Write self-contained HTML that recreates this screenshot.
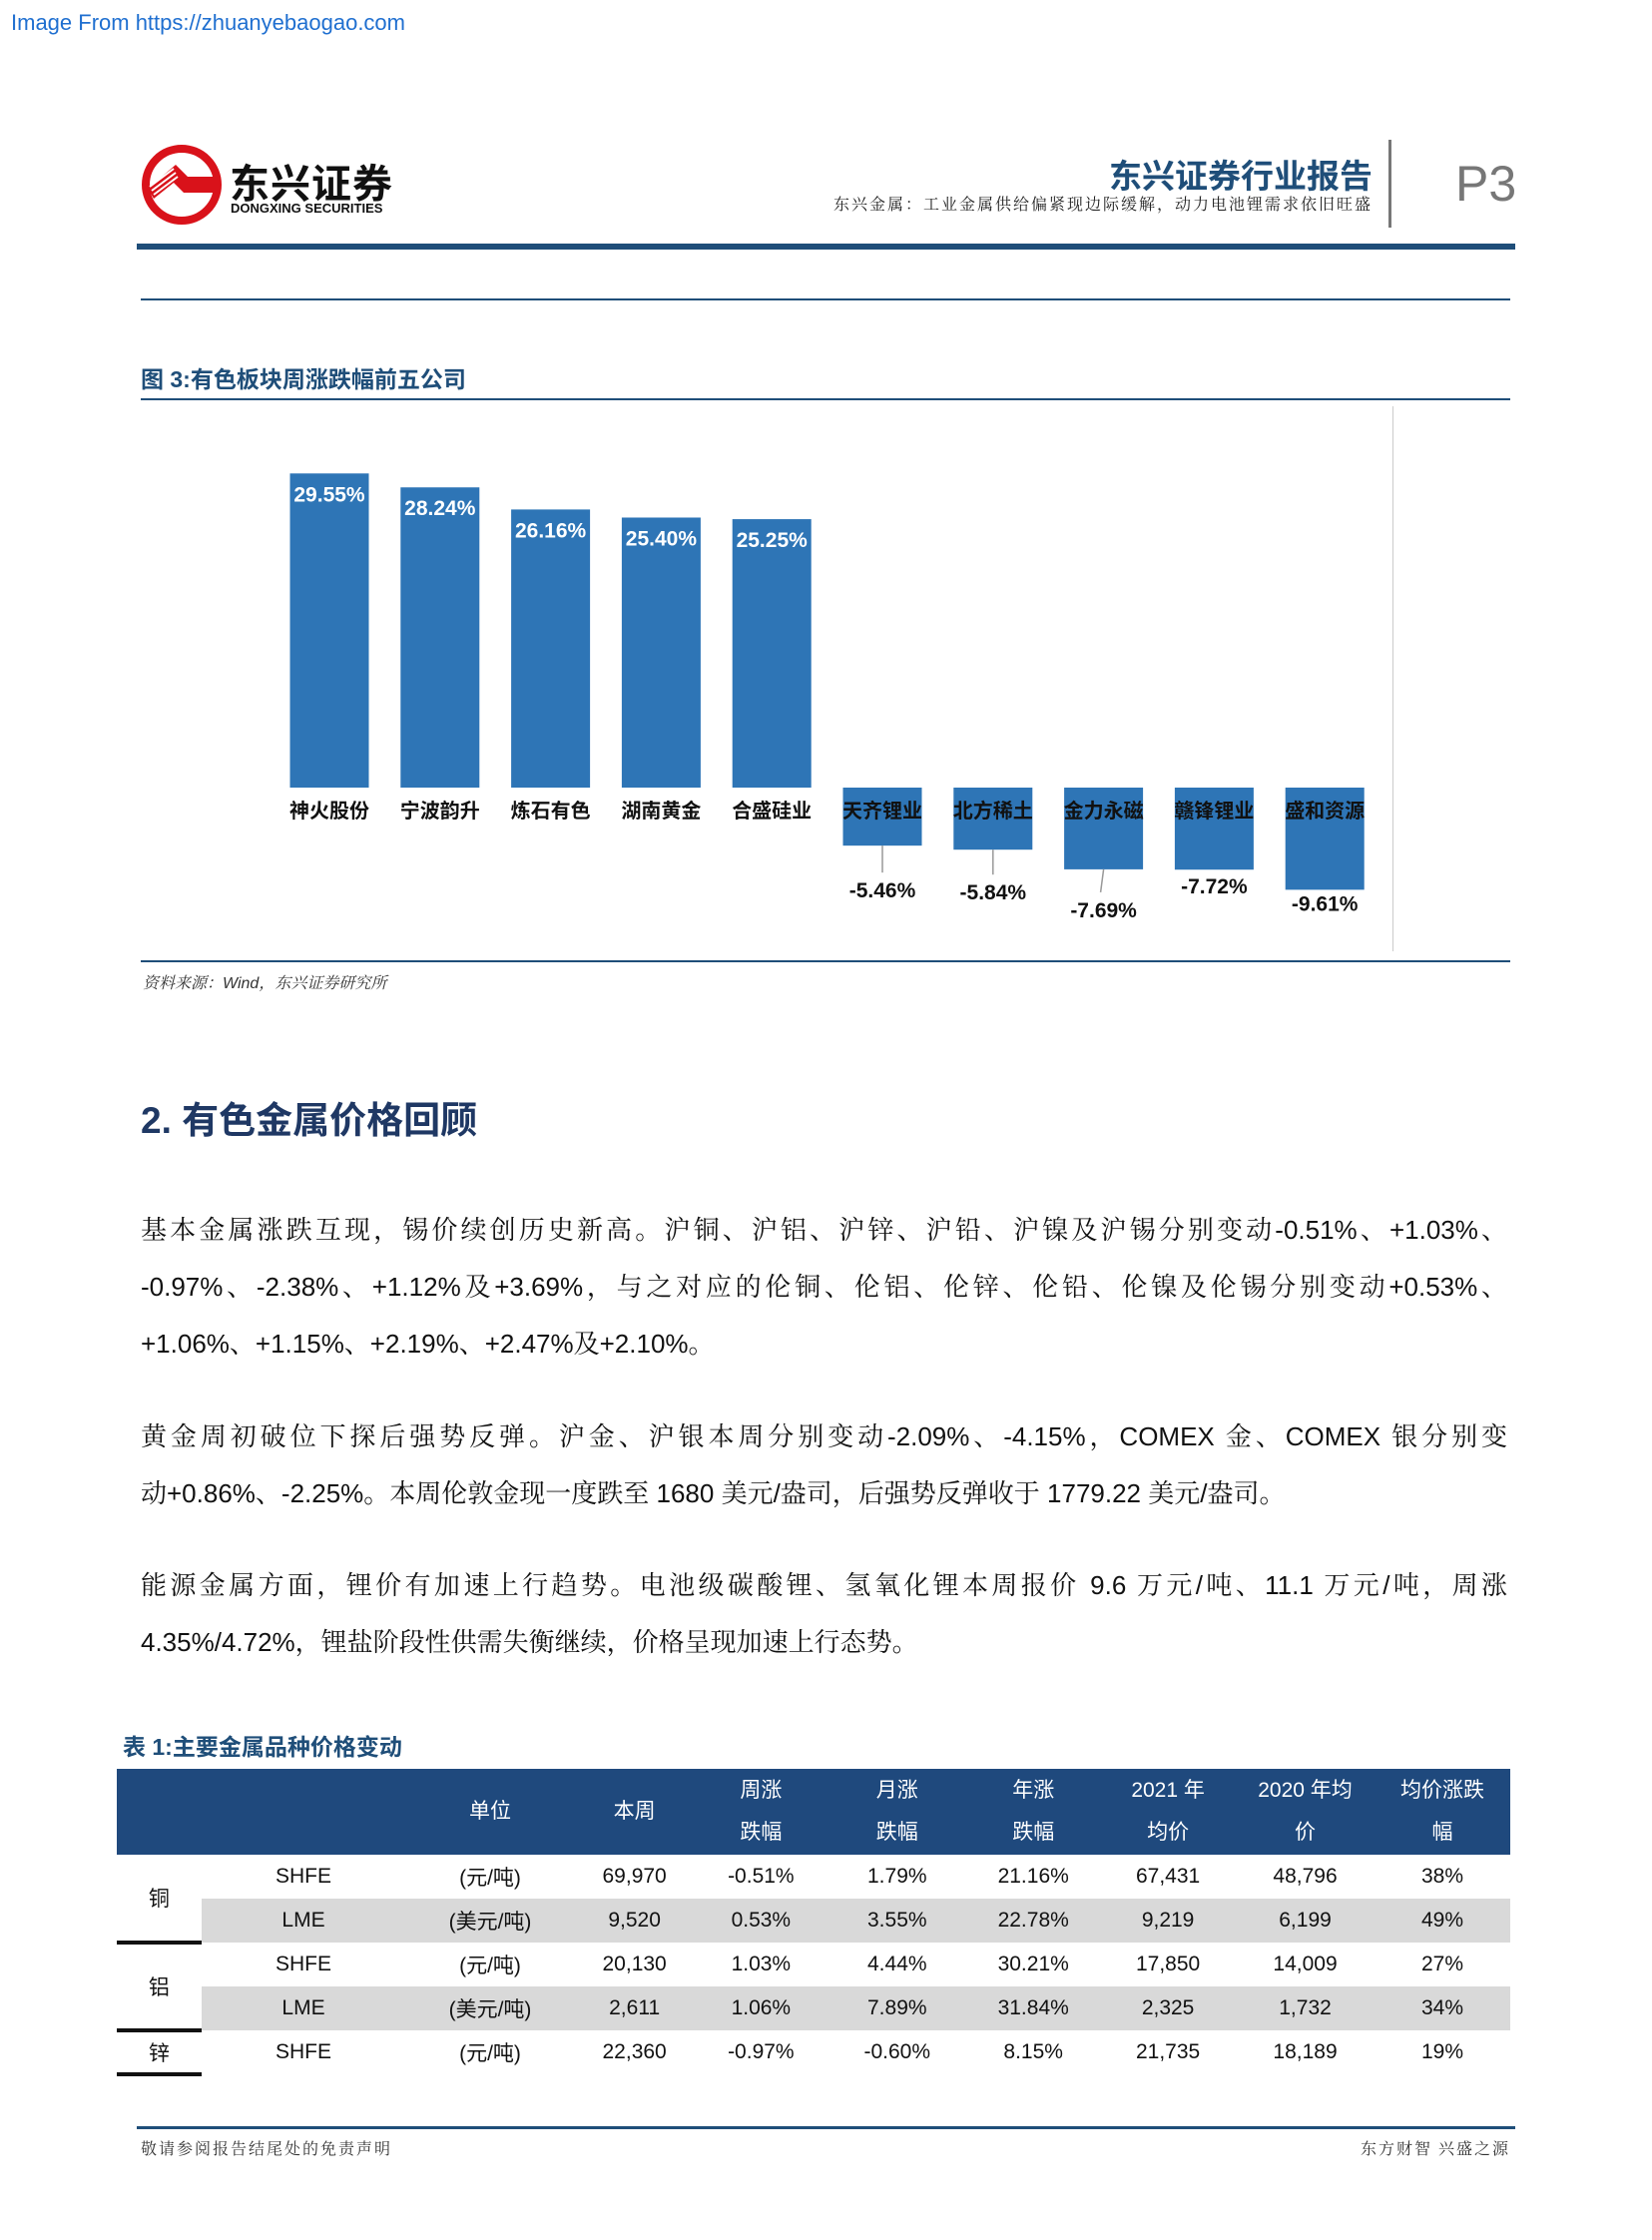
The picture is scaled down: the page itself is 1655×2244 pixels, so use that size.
<!DOCTYPE html>
<html><head><meta charset="utf-8">
<style>
body{margin:0;width:1655px;height:2244px;position:relative;background:#fff;font-family:"Liberation Sans","Noto Sans CJK SC",sans-serif;overflow:hidden}
.a{position:absolute;white-space:nowrap}
.ln{position:absolute;left:141px;width:1369px;font-size:26px;font-family:"Liberation Sans","Noto Serif CJK SC",serif;color:#111;white-space:nowrap}
.j{text-align:justify;text-align-last:justify;white-space:normal}
table{border-collapse:collapse}
td,th{padding:0;text-align:center;font-weight:normal}
</style></head><body>
<div class="a" style="left:11px;top:10px;font-size:22px;color:#1f6fd0">Image From https://zhuanyebaogao.com</div>

<svg class="a" style="left:140px;top:143px" width="84" height="84" viewBox="0 0 84 84">
<circle cx="42" cy="42" r="36" fill="none" stroke="#d9121a" stroke-width="8"/>
<path d="M8 46 L36 22 L48 34 L76 34 L76 50 L44 50 L34 40 L14 56 Z" fill="#d9121a"/>
<path d="M10 44 L34 26 M12 48 L36 30 M14 52 L38 34" stroke="#fff" stroke-width="2"/>
</svg>
<div class="a" style="left:230px;top:152px;font-size:40px;font-weight:bold;color:#111;letter-spacing:1px">东兴证券</div>
<div class="a" style="left:231px;top:201px;font-size:13px;font-weight:bold;color:#111">DONGXING SECURITIES</div>
<div class="a" style="right:280px;top:150px;font-size:33px;font-weight:bold;color:#1f4e79">东兴证券行业报告</div>
<div class="a" style="right:280px;top:192px;font-size:16px;color:#222;font-family:'Liberation Serif','Noto Serif CJK SC',serif;letter-spacing:2px">东兴金属：工业金属供给偏紧现边际缓解，动力电池锂需求依旧旺盛</div>
<div class="a" style="left:1391px;top:140px;width:3px;height:88px;background:#777"></div>
<div class="a" style="left:1458px;top:155px;font-size:50px;color:#777">P3</div>
<div class="a" style="left:137px;top:244px;width:1381px;height:6px;background:#1f4e79"></div>
<div class="a" style="left:141px;top:299px;width:1372px;height:2px;background:#1f4e79"></div>

<div class="a" style="left:141px;top:361px;font-size:23px;font-weight:bold;color:#1f4e79">图 3:有色板块周涨跌幅前五公司</div>
<div class="a" style="left:141px;top:399px;width:1372px;height:2px;background:#1f4e79"></div>
<div class="a" style="left:1395px;top:407px;width:1px;height:546px;background:#ccc"></div>

<svg class="a" id="chart" style="left:0;top:0" width="1655" height="1000"></svg>

<div class="a" style="left:141px;top:962px;width:1372px;height:2px;background:#1f4e79"></div>
<div class="a" style="left:143px;top:972px;font-size:16px;font-style:italic;color:#333;font-family:'Liberation Sans','Noto Serif CJK SC',serif">资料来源：Wind，东兴证券研究所</div>

<div class="a" style="left:141px;top:1092px;font-size:37px;font-weight:bold;color:#1f3864">2. 有色金属价格回顾</div>

<div class="ln j" style="top:1212px">基本金属涨跌互现，锡价续创历史新高。沪铜、沪铝、沪锌、沪铅、沪镍及沪锡分别变动-0.51%、+1.03%、</div>
<div class="ln j" style="top:1269px">-0.97%、-2.38%、+1.12%及+3.69%，与之对应的伦铜、伦铝、伦锌、伦铅、伦镍及伦锡分别变动+0.53%、</div>
<div class="ln" style="top:1326px">+1.06%、+1.15%、+2.19%、+2.47%及+2.10%。</div>
<div class="ln j" style="top:1419px">黄金周初破位下探后强势反弹。沪金、沪银本周分别变动-2.09%、-4.15%，COMEX 金、COMEX 银分别变</div>
<div class="ln" style="top:1476px">动+0.86%、-2.25%。本周伦敦金现一度跌至 1680 美元/盎司，后强势反弹收于 1779.22 美元/盎司。</div>
<div class="ln j" style="top:1568px">能源金属方面，锂价有加速上行趋势。电池级碳酸锂、氢氧化锂本周报价 9.6 万元/吨、11.1 万元/吨，周涨</div>
<div class="ln" style="top:1625px">4.35%/4.72%，锂盐阶段性供需失衡继续，价格呈现加速上行态势。</div>

<div class="a" style="left:123px;top:1731px;font-size:23px;font-weight:bold;color:#1f4e79">表 1:主要金属品种价格变动</div>

<table class="a" style="left:117px;top:1772px;width:1396px;font-size:21px;color:#111">
<colgroup><col style="width:83px"><col style="width:200px"><col style="width:166px"><col style="width:117px"><col style="width:131px"><col style="width:136px"><col style="width:131px"><col style="width:133px"><col style="width:136px"><col style="width:133px"></colgroup>
<tr style="background:#1f497d;color:#fff;height:86px;line-height:42px">
<th></th><th></th><th>单位</th><th>本周</th><th>周涨<br>跌幅</th><th>月涨<br>跌幅</th><th>年涨<br>跌幅</th><th>2021 年<br>均价</th><th>2020 年均<br>价</th><th>均价涨跌<br>幅</th></tr>
<tr style="height:44px"><td rowspan="2" style="border-bottom:4px solid #111">铜</td><td>SHFE</td><td>(元/吨)</td><td>69,970</td><td>-0.51%</td><td>1.79%</td><td>21.16%</td><td>67,431</td><td>48,796</td><td>38%</td></tr>
<tr style="height:44px;background:#d9d9d9"><td>LME</td><td>(美元/吨)</td><td>9,520</td><td>0.53%</td><td>3.55%</td><td>22.78%</td><td>9,219</td><td>6,199</td><td>49%</td></tr>
<tr style="height:44px"><td rowspan="2" style="border-bottom:4px solid #111">铝</td><td>SHFE</td><td>(元/吨)</td><td>20,130</td><td>1.03%</td><td>4.44%</td><td>30.21%</td><td>17,850</td><td>14,009</td><td>27%</td></tr>
<tr style="height:44px;background:#d9d9d9"><td>LME</td><td>(美元/吨)</td><td>2,611</td><td>1.06%</td><td>7.89%</td><td>31.84%</td><td>2,325</td><td>1,732</td><td>34%</td></tr>
<tr style="height:44px"><td style="border-bottom:4px solid #111">锌</td><td>SHFE</td><td>(元/吨)</td><td>22,360</td><td>-0.97%</td><td>-0.60%</td><td>8.15%</td><td>21,735</td><td>18,189</td><td>19%</td></tr>
</table>

<div class="a" style="left:137px;top:2130px;width:1381px;height:3px;background:#1f4e79"></div>
<div class="a" style="left:141px;top:2140px;font-size:16px;color:#333;font-family:'Liberation Serif','Noto Serif CJK SC',serif;letter-spacing:2px">敬请参阅报告结尾处的免责声明</div>
<div class="a" style="right:142px;top:2140px;font-size:16px;color:#333;font-family:'Liberation Serif','Noto Serif CJK SC',serif;letter-spacing:2px">东方财智 兴盛之源</div>

<script>
const categories=["神火股份","宁波韵升","炼石有色","湖南黄金","合盛硅业","天齐锂业","北方稀土","金力永磁","赣锋锂业","盛和资源"];
const values=[29.55,28.24,26.16,25.40,25.25,-5.46,-5.84,-7.69,-7.72,-9.61];
const valueLabels=["29.55%","28.24%","26.16%","25.40%","25.25%","-5.46%","-5.84%","-7.69%","-7.72%","-9.61%"];
const labelOffsets=[0,0,0,0,0,24,22,20,-4,-7];
const NS="http://www.w3.org/2000/svg";
const svg=document.getElementById('chart');
const y0=789, pxPer=10.65, x0=330, step=110.8, bw=79;
const yScale=v=>y0-v*pxPer;
const xScale=i=>x0+i*step;
function mk(t,at){const e=document.createElementNS(NS,t);for(const k in at)e.setAttribute(k,at[k]);svg.appendChild(e);return e;}
values.forEach((v,i)=>{
  const cx=xScale(i);
  const top=Math.min(yScale(v),y0), h=Math.abs(yScale(v)-y0);
  const r=mk('rect',{x:cx-bw/2,y:top,width:bw,height:h,fill:'#2e75b6'});
  
  
  const c=mk('text',{x:cx,y:y0+30,'text-anchor':'middle','font-size':20,'font-weight':'bold',fill:'#111','font-family':'Liberation Sans, Noto Sans CJK SC, sans-serif'});
  c.textContent=categories[i];
  
  
  let vt;
  if(v>=0){
    vt=mk('text',{x:cx,y:top+28,'text-anchor':'middle','font-size':21,'font-weight':'bold',fill:'#fff','font-family':'Liberation Sans, sans-serif'});
  }else{
    const bot=yScale(v), ly=bot+labelOffsets[i]+28;
    if(labelOffsets[i]>10){
      const ln=mk('line',{x1:cx,y1:bot,x2:cx-(i==7?3:0),y2:ly-25,stroke:'#999','stroke-width':1.5});
      
      
    }
    vt=mk('text',{x:cx,y:ly,'text-anchor':'middle','font-size':21,'font-weight':'bold',fill:'#111','font-family':'Liberation Sans, sans-serif'});
  }
  vt.textContent=valueLabels[i];
  
  
});
</script>
</body></html>
